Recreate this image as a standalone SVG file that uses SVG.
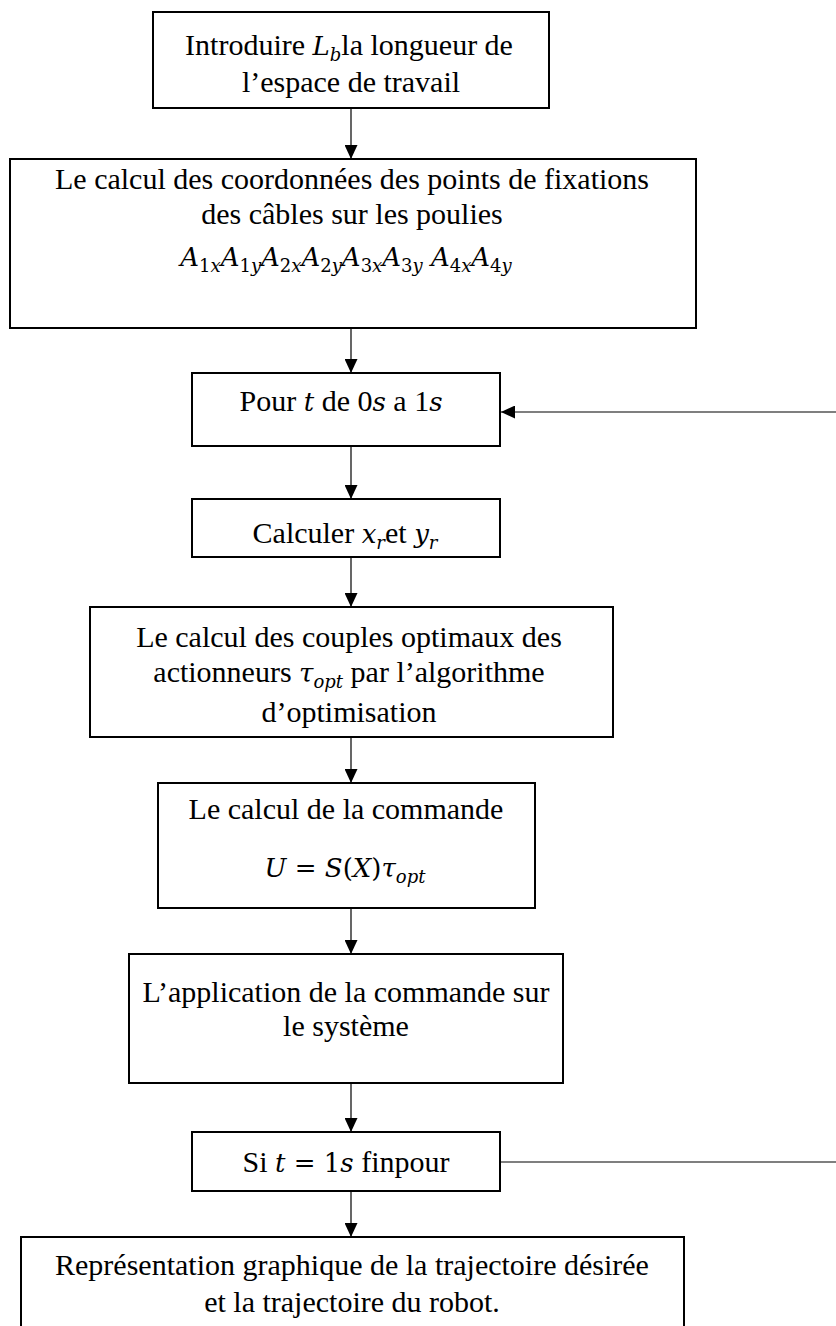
<svg xmlns="http://www.w3.org/2000/svg" width="836" height="1326" viewBox="0 0 836 1326">
<style>
.box{fill:#fff;stroke:#000;stroke-width:2}
.t{font-family:"Liberation Serif","Times New Roman",serif;font-size:30px;fill:#000;text-anchor:middle}
.m{font-family:"DejaVu Serif",serif;font-style:italic;font-size:26px}
.mu{font-family:"DejaVu Serif",serif;font-size:26px}
.s{font-family:"DejaVu Serif",serif;font-style:italic;font-size:18px}
.su{font-family:"DejaVu Serif",serif;font-size:18px}
.c{fill:none;stroke:#000;stroke-width:1.2}
</style>
<defs>
<marker id="ah" markerUnits="userSpaceOnUse" markerWidth="14" markerHeight="13" refX="14" refY="6.5" orient="auto">
<path d="M0,0 L14,6.5 L0,13 z" fill="#000"/>
</marker>
</defs>
<g id="connectors">
<line class="c" x1="351" y1="108" x2="351" y2="159" marker-end="url(#ah)"/>
<line class="c" x1="351" y1="328" x2="351" y2="373" marker-end="url(#ah)"/>
<line class="c" x1="351" y1="446" x2="351" y2="499" marker-end="url(#ah)"/>
<line class="c" x1="351" y1="557" x2="351" y2="607" marker-end="url(#ah)"/>
<line class="c" x1="351" y1="737" x2="351" y2="783" marker-end="url(#ah)"/>
<line class="c" x1="351" y1="908" x2="351" y2="954" marker-end="url(#ah)"/>
<line class="c" x1="351" y1="1083" x2="351" y2="1132" marker-end="url(#ah)"/>
<line class="c" x1="351" y1="1191" x2="351" y2="1237" marker-end="url(#ah)"/>
<line class="c" x1="836" y1="412" x2="501" y2="412" marker-end="url(#ah)"/>
<line class="c" x1="493" y1="1162" x2="836" y2="1162"/>
</g>
<g id="n1">
<rect class="box" x="153" y="12" width="396" height="96"/>
<text class="t" x="349" y="55">Introduire <tspan class="m">L</tspan><tspan class="s" dy="6">b</tspan><tspan dy="-6">la longueur de</tspan></text>
<text class="t" x="351" y="92">l’espace de travail</text>
</g>
<g id="n2">
<rect class="box" x="10" y="159" width="686" height="169"/>
<text class="t" x="352" y="189">Le calcul des coordonnées des points de fixations</text>
<text class="t" x="352" y="224">des câbles sur les poulies</text>
<text class="t" x="346" y="266"><tspan class="m">A</tspan><tspan class="su" dy="6">1</tspan><tspan class="s">x</tspan><tspan class="m" dy="-6">A</tspan><tspan class="su" dy="6">1</tspan><tspan class="s">y</tspan><tspan class="m" dy="-6">A</tspan><tspan class="su" dy="6">2</tspan><tspan class="s">x</tspan><tspan class="m" dy="-6">A</tspan><tspan class="su" dy="6">2</tspan><tspan class="s">y</tspan><tspan class="m" dy="-6">A</tspan><tspan class="su" dy="6">3</tspan><tspan class="s">x</tspan><tspan class="m" dy="-6">A</tspan><tspan class="su" dy="6">3</tspan><tspan class="s">y</tspan><tspan class="m" dy="-6"> A</tspan><tspan class="su" dy="6">4</tspan><tspan class="s">x</tspan><tspan class="m" dy="-6">A</tspan><tspan class="su" dy="6">4</tspan><tspan class="s">y</tspan></text>
</g>
<g id="n3">
<rect class="box" x="192" y="373" width="308" height="73"/>
<text class="t" x="341" y="411">Pour <tspan class="m">t</tspan> de 0<tspan class="m">s</tspan> a 1<tspan class="m">s</tspan></text>
</g>
<g id="n4">
<rect class="box" x="192" y="499" width="308" height="58"/>
<text class="t" x="345" y="543">Calculer <tspan class="m">x</tspan><tspan class="s" dy="6">r</tspan><tspan dy="-6">et </tspan><tspan class="m">y</tspan><tspan class="s" dy="6">r</tspan></text>
</g>
<g id="n5">
<rect class="box" x="90" y="607" width="523" height="130"/>
<text class="t" x="349" y="647">Le calcul des couples optimaux des</text>
<text class="t" x="349" y="682">actionneurs <tspan class="m">τ</tspan><tspan class="s" dy="6">opt</tspan><tspan dy="-6"> par l’algorithme</tspan></text>
<text class="t" x="349" y="722">d’optimisation</text>
</g>
<g id="n6">
<rect class="box" x="158" y="783" width="377" height="125"/>
<text class="t" x="346" y="819">Le calcul de la commande</text>
<text class="t" x="345" y="877"><tspan class="m">U</tspan><tspan class="mu"> = </tspan><tspan class="m">S</tspan><tspan class="mu">(</tspan><tspan class="m">X</tspan><tspan class="mu">)</tspan><tspan class="m">τ</tspan><tspan class="s" dy="6">opt</tspan></text>
</g>
<g id="n7">
<rect class="box" x="129" y="954" width="434" height="129"/>
<text class="t" x="346" y="1002">L’application de la commande sur</text>
<text class="t" x="346" y="1036">le système</text>
</g>
<g id="n8">
<rect class="box" x="192" y="1132" width="308" height="59"/>
<text class="t" x="346" y="1172">Si <tspan class="m">t</tspan><tspan class="mu"> = </tspan><tspan class="mu">1</tspan><tspan class="m">s</tspan> finpour</text>
</g>
<g id="n9">
<rect class="box" x="21" y="1237" width="663" height="100"/>
<text class="t" x="352" y="1275">Représentation graphique de la trajectoire désirée</text>
<text class="t" x="352" y="1312">et la trajectoire du robot.</text>
</g>
</svg>
